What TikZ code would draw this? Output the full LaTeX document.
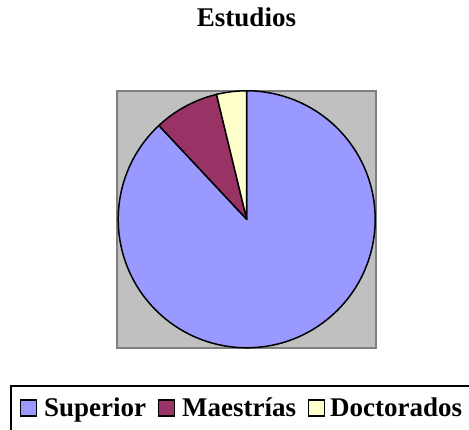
\documentclass[tikz,border=0pt]{standalone}
\usepackage{fontspec}
\setmainfont{Liberation Serif}
\definecolor{superior}{HTML}{9999FF}
\definecolor{maestrias}{HTML}{993366}
\definecolor{doctorados}{HTML}{FFFFCC}
\definecolor{plotgray}{HTML}{C0C0C0}
\definecolor{framegray}{HTML}{808080}
\def\slice[#1](#2:#3){\filldraw[#1, line width=1.5pt, draw=black, line join=round] (246.7,209.7) -- ++(#2:128.5) arc (#2:#3:128.5) -- cycle;}
\tikzset{
  legkey/.style={draw=black, line width=1.5pt, minimum width=16pt, minimum height=16pt, inner sep=0pt},
  legtext/.style={font=\fontsize{27}{31}\selectfont\bfseries, inner sep=0pt, anchor=base west}
}
\begin{document}
\begin{tikzpicture}[x=1pt,y=1pt]
		%%%%% START %%%%%
		\useasboundingbox (0,0) rectangle (469,429);
		
		\node[font=\fontsize{27}{31}\selectfont\bfseries, anchor=base] (title) at (246.5,402) {Estudios};
		
		\draw[fill=plotgray, draw=framegray, line width=1.5pt] (117,81) rectangle (376,338);
		
		\slice[fill=superior](133.1:450)
		\slice[fill=maestrias](103.6:133.1)
		\slice[fill=doctorados](90:103.6)
		
		\draw[line width=2pt] (11,-10) -- (11,43) -- (480,43);
		
		\node[legkey, fill=superior] (ksup) at (28.5,21) {};
		\node[legtext] (tsup) at (44,12.3) {Superior};
		\node[legkey, fill=maestrias] (kmae) at (166.5,21) {};
		\node[legtext] (tmae) at (182,12.3) {Maestrías};
		\node[legkey, fill=doctorados] (kdoc) at (316.5,21) {};
		\node[legtext] (tdoc) at (330,12.3) {Doctorados};
		
		%%%%% END %%%%%
	\end{tikzpicture}
\end{document}
